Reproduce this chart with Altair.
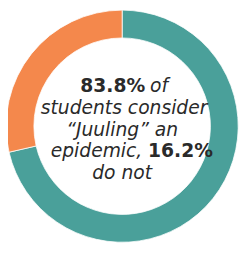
import altair as alt
import pandas as pd

# Arc shares as drawn in the picture (clockwise from 12 o'clock)
segments = ["consider it an epidemic", "do not"]
shares = [71.4, 28.6]
colors = ["#4aa09a", "#f4884c"]

# Caption lines
line1_bold = "83.8%"
line1_rest = "of"
line2 = "students consider"
line3 = "\u201cJuuling\u201d an"
line4_rest = "epidemic,"
line4_bold = "16.2%"
line5 = "do not"

df = pd.DataFrame({"segment": segments, "share": shares, "order": [0, 1]})

cx, cy = 119, 118
font = "DejaVu Sans"
fs = 19.5
ink = "#2a2a2a"

donut = alt.Chart(df).mark_arc(outerRadius=121, innerRadius=92, stroke="white", strokeWidth=0.8).encode(
    theta=alt.Theta("share:Q", stack=True),
    order=alt.Order("order:Q"),
    color=alt.Color("segment:N", scale=alt.Scale(domain=segments, range=colors), legend=None),
    x=alt.value(cx),
    y=alt.value(cy),
)

def txt(s, x, y, align="center", bold=False, italic=True, size=fs):
    kw = dict(font=font, fontSize=size, color=ink, align=align, baseline="alphabetic",
              fontWeight="bold" if bold else "normal")
    if italic:
        kw["fontStyle"] = "italic"
    return alt.Chart(pd.DataFrame({"t": [s]})).mark_text(**kw).encode(
        text="t:N", x=alt.value(x), y=alt.value(y))

layers = [
    donut,
    txt(line1_bold, 143, 82, align="right", bold=True, italic=False),
    txt(line1_rest, 148, 82, align="left"),
    txt(line2, cx + 2, 105),
    txt(line3, cx, 128),
    txt(line4_rest, 140, 150, align="right"),
    txt(line4_bold, 146, 150, align="left", bold=True, italic=False),
    txt(line5, cx, 173),
]

chart = alt.layer(*layers).properties(
    width=245, height=245, padding=0, autosize=alt.AutoSizeParams(type="none"), background="white"
).configure_view(stroke=None)

chart.save("out.html", embed_options={"renderer": "svg", "actions": False})
